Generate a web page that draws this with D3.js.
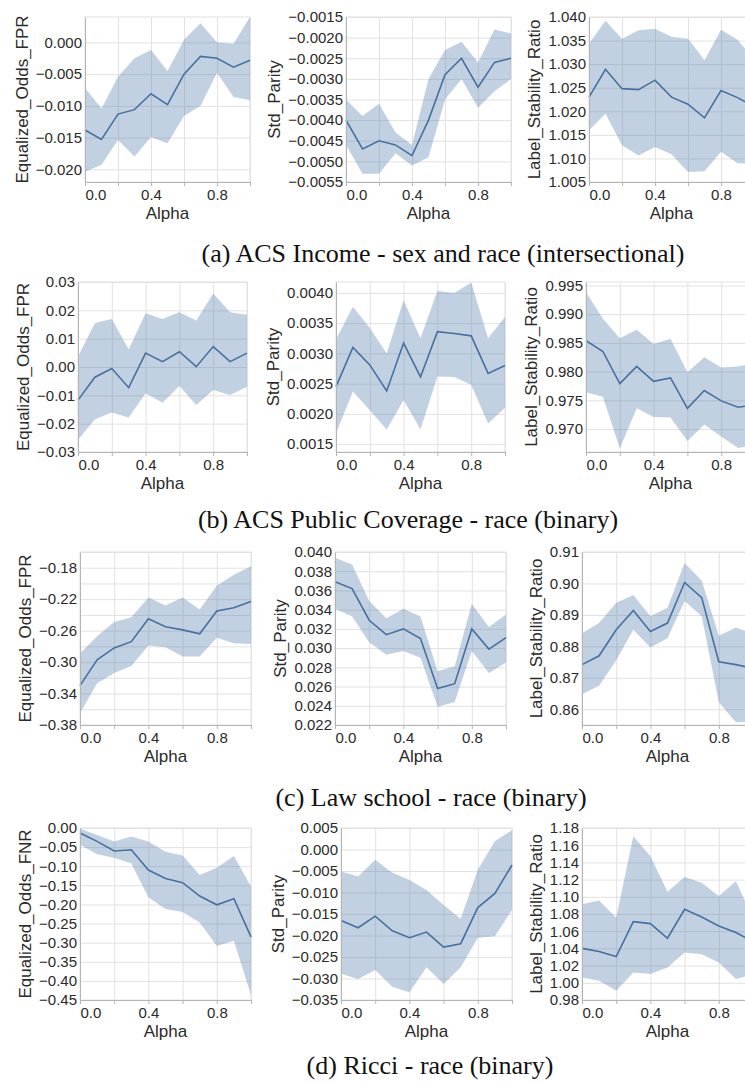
<!DOCTYPE html>
<html>
<head>
<meta charset="utf-8">
<script src="https://cdn.jsdelivr.net/npm/d3@7/dist/d3.min.js"></script>
<style>
body { margin: 0; background: #fff; }
svg { display: block; }
</style>
</head>
<body>
<script>
var alphaValues = [0, 0.1, 0.2, 0.3, 0.4, 0.5, 0.6, 0.7, 0.8, 0.9, 1.0];
var xTicks = [0, 0.2, 0.4, 0.6, 0.8, 1.0];
var xTickLabels = [0, 0.4, 0.8];

// (a) ACS Income
var incEoMean = [-0.0138, -0.0153, -0.0113, -0.0106, -0.0081, -0.0098, -0.0050, -0.0022, -0.0025, -0.0039, -0.0028];
var incEoHigh = [-0.0072, -0.0104, -0.0054, -0.0025, -0.0012, -0.0045, 0.0004, 0.0030, 0.0000, -0.0002, 0.0040];
var incEoLow = [-0.0204, -0.0193, -0.0154, -0.0180, -0.0149, -0.0159, -0.0116, -0.0100, -0.0048, -0.0086, -0.0091];
var incSpMean = [-0.0040, -0.0047, -0.0045, -0.0046, -0.00486, -0.0040, -0.0029, -0.0025, -0.0032, -0.0026, -0.0025];
var incSpHigh = [-0.0035, -0.0039, -0.0036, -0.0043, -0.0046, -0.0030, -0.0023, -0.0021, -0.0026, -0.0018, -0.0019];
var incSpLow = [-0.0046, -0.0053, -0.0053, -0.0048, -0.0051, -0.0049, -0.0035, -0.0030, -0.0037, -0.0033, -0.0030];
var incLsrMean = [1.0230, 1.0289, 1.0248, 1.0246, 1.0266, 1.0230, 1.0215, 1.0186, 1.0244, 1.0229, 1.0210];
var incLsrHigh = [1.0343, 1.0392, 1.0354, 1.0372, 1.0375, 1.0358, 1.0354, 1.0308, 1.0373, 1.0352, 1.0310];
var incLsrLow = [1.0160, 1.0195, 1.0128, 1.0106, 1.0124, 1.0109, 1.0071, 1.0073, 1.0114, 1.0090, 1.0088];

// (b) ACS Public Coverage
var pubEoMean = [-0.0117, -0.0036, -0.0005, -0.0073, 0.0049, 0.0019, 0.0054, 0.0001, 0.0072, 0.0019, 0.0049];
var pubEoHigh = [0.0037, 0.0155, 0.0169, 0.0063, 0.0190, 0.0169, 0.0193, 0.0164, 0.0259, 0.0193, 0.0184];
var pubEoLow = [-0.0258, -0.0184, -0.0161, -0.0178, -0.0093, -0.0126, -0.0067, -0.0134, -0.0081, -0.0099, -0.0070];
var pubSpMean = [0.00245, 0.00310, 0.00281, 0.00238, 0.00317, 0.00261, 0.00336, 0.00333, 0.00329, 0.00267, 0.00280];
var pubSpHigh = [0.00323, 0.00377, 0.00342, 0.00300, 0.00388, 0.00325, 0.00403, 0.00400, 0.00417, 0.00325, 0.00360];
var pubSpLow = [0.00168, 0.00237, 0.00206, 0.00174, 0.00223, 0.00174, 0.00262, 0.00261, 0.00248, 0.00184, 0.00210];
var pubLsrMean = [0.9854, 0.9835, 0.9779, 0.9809, 0.9783, 0.9789, 0.9736, 0.9767, 0.9749, 0.9738, 0.9742];
var pubLsrHigh = [0.9938, 0.9892, 0.9858, 0.9873, 0.9848, 0.9857, 0.9799, 0.9825, 0.9807, 0.9809, 0.9815];
var pubLsrLow = [0.9764, 0.9756, 0.9666, 0.9736, 0.9721, 0.9720, 0.9679, 0.9708, 0.9687, 0.9667, 0.9672];

// (c) Law school
var lawEoMean = [-0.330, -0.297, -0.282, -0.274, -0.245, -0.255, -0.259, -0.264, -0.235, -0.231, -0.223];
var lawEoHigh = [-0.289, -0.267, -0.249, -0.243, -0.218, -0.228, -0.218, -0.233, -0.203, -0.189, -0.178];
var lawEoLow = [-0.365, -0.327, -0.314, -0.305, -0.279, -0.281, -0.293, -0.293, -0.269, -0.276, -0.277];
var lawSpMean = [0.0369, 0.0362, 0.0329, 0.0314, 0.0320, 0.0310, 0.0258, 0.0263, 0.0320, 0.0299, 0.0311];
var lawSpHigh = [0.0394, 0.0387, 0.0349, 0.0331, 0.0341, 0.0333, 0.0276, 0.0281, 0.0346, 0.0322, 0.0335];
var lawSpLow = [0.0341, 0.0333, 0.0306, 0.0293, 0.0297, 0.0290, 0.0239, 0.0244, 0.0297, 0.0274, 0.0285];
var lawLsrMean = [0.8742, 0.8770, 0.8853, 0.8914, 0.8847, 0.8874, 0.9003, 0.8955, 0.8751, 0.8742, 0.8730];
var lawLsrHigh = [0.8842, 0.8874, 0.8939, 0.8963, 0.8896, 0.8923, 0.9065, 0.9009, 0.8834, 0.8860, 0.8840];
var lawLsrLow = [0.8648, 0.8675, 0.8756, 0.8853, 0.8796, 0.8826, 0.8944, 0.8896, 0.8622, 0.8559, 0.8560];

// (d) Ricci
var ricEoMean = [-0.013, -0.035, -0.060, -0.057, -0.110, -0.132, -0.143, -0.178, -0.201, -0.185, -0.285];
var ricEoHigh = [-0.002, -0.018, -0.035, -0.022, -0.035, -0.062, -0.072, -0.123, -0.104, -0.073, -0.153];
var ricEoLow = [-0.044, -0.069, -0.078, -0.093, -0.181, -0.212, -0.220, -0.247, -0.309, -0.295, -0.437];
var ricSpMean = [-0.0165, -0.0182, -0.0155, -0.0189, -0.0205, -0.0192, -0.0227, -0.0219, -0.0135, -0.0102, -0.0036];
var ricSpHigh = [-0.0051, -0.0063, -0.0024, -0.0054, -0.0071, -0.0094, -0.0129, -0.0161, -0.0047, 0.0019, 0.0045];
var ricSpLow = [-0.0289, -0.0301, -0.0280, -0.0319, -0.0332, -0.0274, -0.0313, -0.0274, -0.0205, -0.0202, -0.0140];
var ricLsrMean = [1.0400, 1.0364, 1.0306, 1.0711, 1.0688, 1.0518, 1.0854, 1.0765, 1.0661, 1.0584, 1.0480];
var ricLsrHigh = [1.0912, 1.0958, 1.0757, 1.1703, 1.1472, 1.1059, 1.1229, 1.1163, 1.1008, 1.1182, 1.0750];
var ricLsrLow = [1.0063, 1.0024, 0.9908, 1.0121, 1.0101, 1.0178, 1.0352, 1.0333, 1.0236, 1.0043, 1.0100];

// y tick values
var incEoTicks = [-0.020, -0.015, -0.010, -0.005, 0.000];
var incSpTicks = [-0.0055, -0.0050, -0.0045, -0.0040, -0.0035, -0.0030, -0.0025, -0.0020, -0.0015];
var incLsrTicks = [1.005, 1.010, 1.015, 1.020, 1.025, 1.030, 1.035, 1.040];
var pubEoTicks = [-0.03, -0.02, -0.01, 0.00, 0.01, 0.02, 0.03];
var pubSpTicks = [0.0015, 0.0020, 0.0025, 0.0030, 0.0035, 0.0040];
var pubLsrTicks = [0.970, 0.975, 0.980, 0.985, 0.990, 0.995];
var lawEoTicks = [-0.38, -0.36, -0.34, -0.32, -0.30, -0.28, -0.26, -0.24, -0.22, -0.20, -0.18, -0.16];
var lawEoLabels = [-0.38, -0.34, -0.30, -0.26, -0.22, -0.18];
var lawSpTicks = [0.022, 0.024, 0.026, 0.028, 0.030, 0.032, 0.034, 0.036, 0.038, 0.040];
var lawLsrTicks = [0.86, 0.87, 0.88, 0.89, 0.90, 0.91];
var ricEoTicks = [-0.45, -0.40, -0.35, -0.30, -0.25, -0.20, -0.15, -0.10, -0.05, 0.00];
var ricSpTicks = [-0.035, -0.030, -0.025, -0.020, -0.015, -0.010, -0.005, 0.000, 0.005];
var ricLsrTicks = [0.98, 1.00, 1.02, 1.04, 1.06, 1.08, 1.10, 1.12, 1.14, 1.16, 1.18];

var captions = ['(a) ACS Income - sex and race (intersectional)',
				'(b) ACS Public Coverage - race (binary)',
				'(c) Law school - race (binary)',
				'(d) Ricci - race (binary)'];

(function(document, window){
'use strict';

var width = 745;
var height = 1084;
var bandColor = '#4c78a8';

var svg = d3.select('body').append('svg')
			.attr('width', width)
			.attr('height', height)
			.style('font-family', '"Liberation Sans", Arial, sans-serif');

// one entry per row of the figure: where the three plots sit
var rows = [
	{top: 17, w: 165, h: 165, lefts: [85, 346, 589], capX: 443, capY: 262, panels: [
		{title: 'Equalized_Odds_FPR', mean: incEoMean, lo: incEoLow, hi: incEoHigh, ticks: incEoTicks, dom: [-0.022, 0.004], fmt: '.3f'},
		{title: 'Std_Parity', mean: incSpMean, lo: incSpLow, hi: incSpHigh, ticks: incSpTicks, dom: [-0.0055, -0.0015], fmt: '.4f'},
		{title: 'Label_Stability_Ratio', mean: incLsrMean, lo: incLsrLow, hi: incLsrHigh, ticks: incLsrTicks, dom: [1.005, 1.040], fmt: '.3f'}]},
	{top: 282, w: 169, h: 170, lefts: [78, 336, 586], capX: 408, capY: 528, panels: [
		{title: 'Equalized_Odds_FPR', mean: pubEoMean, lo: pubEoLow, hi: pubEoHigh, ticks: pubEoTicks, dom: [-0.03, 0.03], fmt: '.2f'},
		{title: 'Std_Parity', mean: pubSpMean, lo: pubSpLow, hi: pubSpHigh, ticks: pubSpTicks, dom: [0.00137, 0.00418], fmt: '.4f'},
		{title: 'Label_Stability_Ratio', mean: pubLsrMean, lo: pubLsrLow, hi: pubLsrHigh, ticks: pubLsrTicks, dom: [0.966, 0.9956], fmt: '.3f'}]},
	{top: 552, w: 171, h: 173, lefts: [80, 335, 582], capX: 431, capY: 806, panels: [
		{title: 'Equalized_Odds_FPR', mean: lawEoMean, lo: lawEoLow, hi: lawEoHigh, ticks: lawEoTicks, labels: lawEoLabels, dom: [-0.38, -0.16], fmt: '.2f'},
		{title: 'Std_Parity', mean: lawSpMean, lo: lawSpLow, hi: lawSpHigh, ticks: lawSpTicks, dom: [0.022, 0.040], fmt: '.3f'},
		{title: 'Label_Stability_Ratio', mean: lawLsrMean, lo: lawLsrLow, hi: lawLsrHigh, ticks: lawLsrTicks, dom: [0.855, 0.91], fmt: '.2f'}]},
	{top: 828, w: 171, h: 172, lefts: [80, 341, 582], capX: 430, capY: 1074, panels: [
		{title: 'Equalized_Odds_FNR', mean: ricEoMean, lo: ricEoLow, hi: ricEoHigh, ticks: ricEoTicks, dom: [-0.45, 0.0], fmt: '.2f'},
		{title: 'Std_Parity', mean: ricSpMean, lo: ricSpLow, hi: ricSpHigh, ticks: ricSpTicks, dom: [-0.035, 0.005], fmt: '.3f'},
		{title: 'Label_Stability_Ratio', mean: ricLsrMean, lo: ricLsrLow, hi: ricLsrHigh, ticks: ricLsrTicks, dom: [0.98, 1.18], fmt: '.2f'}]}
];

function inList(list, v){
	for(var i=0; i<list.length; i++){
		if(Math.abs(list[i] - v) < 1e-9){
			return true;
		}
	}
	return false;
};

function drawPanel(g, p, w, h){
	var x = d3.scaleLinear().domain([0, 1]).range([0, w]);
	var y = d3.scaleLinear().domain(p.dom).range([h, 0]);
	var fmt = d3.format(p.fmt);
	var xfmt = d3.format('.1f');

	// grid
	g.append('g')
		.attr('class', 'grid')
		.attr('transform', 'translate(0,' + h + ')')
		.call(d3.axisBottom(x).tickValues(xTicks).tickSize(-h).tickFormat(''));
	g.append('g')
		.attr('class', 'grid')
		.call(d3.axisLeft(y).tickValues(p.ticks).tickSize(-w).tickFormat(''));
	g.selectAll('.grid .domain').remove();
	g.selectAll('.grid line').attr('stroke', '#e2e2e2').attr('stroke-width', 1);

	g.append('rect')
		.attr('width', w)
		.attr('height', h)
		.attr('fill', 'none')
		.attr('stroke', '#e2e2e2');

	var area = d3.area()
				.x(function(d, i){ return x(alphaValues[i]); })
				.y0(function(d, i){ return y(p.lo[i]); })
				.y1(function(d, i){ return y(p.hi[i]); });
	var line = d3.line()
				.x(function(d, i){ return x(alphaValues[i]); })
				.y(function(d){ return y(d); });

	g.append('path')
		.datum(p.mean)
		.attr('d', area)
		.attr('fill', bandColor)
		.attr('fill-opacity', 0.34);
	g.append('path')
		.datum(p.mean)
		.attr('d', line)
		.attr('fill', 'none')
		.attr('stroke', '#46709f')
		.attr('stroke-width', 1.6);

	// axes
	var xAxis = g.append('g')
				.attr('transform', 'translate(0,' + h + ')')
				.call(d3.axisBottom(x).tickValues(xTicks).tickSizeInner(4).tickSizeOuter(0).tickPadding(3)
					.tickFormat(function(d){ return inList(xTickLabels, d) ? xfmt(d) : ''; }));
	xAxis.selectAll('text').filter(function(d){ return d === 0; }).attr('text-anchor', 'start');

	var yAxis = g.append('g')
				.call(d3.axisLeft(y).tickValues(p.ticks).tickSizeInner(0).tickSizeOuter(0).tickPadding(3)
					.tickFormat(function(d){ return (!p.labels || inList(p.labels, d)) ? fmt(d) : ''; }));

	g.selectAll('.domain').attr('stroke', '#b5b5b5');
	xAxis.selectAll('line').attr('stroke', '#b5b5b5');
	g.selectAll('.tick text')
		.attr('fill', '#2a2a2a')
		.style('font-size', '15px')
		.style('font-family', '"Liberation Sans", Arial, sans-serif');

	var maxW = 0;
	yAxis.selectAll('text').each(function(){
		maxW = Math.max(maxW, this.getComputedTextLength());
	});

	g.append('text')
		.attr('transform', 'translate(' + (-(3 + maxW + 8)) + ',' + (h / 2) + ') rotate(-90)')
		.attr('text-anchor', 'middle')
		.attr('fill', '#2a2a2a')
		.style('font-size', '17px')
		.text(p.title);

	g.append('text')
		.attr('x', w / 2)
		.attr('y', h + 36.5)
		.attr('text-anchor', 'middle')
		.attr('fill', '#2a2a2a')
		.style('font-size', '17px')
		.text('Alpha');
};

rows.forEach(function(r, ri){
	r.panels.forEach(function(p, pi){
		var g = svg.append('g').attr('transform', 'translate(' + r.lefts[pi] + ',' + r.top + ')');
		drawPanel(g, p, r.w, r.h);
	});
	svg.append('text')
		.attr('x', r.capX)
		.attr('y', r.capY)
		.attr('text-anchor', 'middle')
		.attr('fill', '#111')
		.style('font-family', '"Liberation Serif", "Times New Roman", serif')
		.style('font-size', '26px')
		.text(captions[ri]);
});

})(document, window);
</script>
</body>
</html>
